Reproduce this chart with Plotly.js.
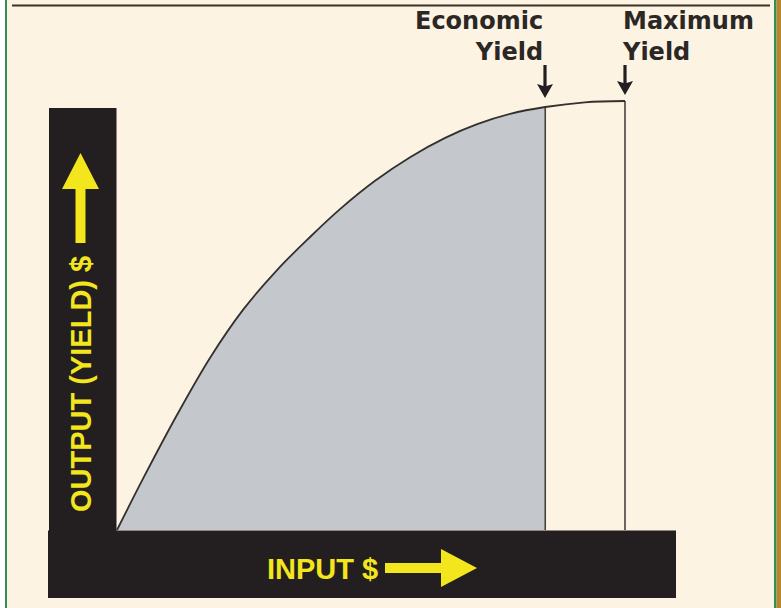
<!DOCTYPE html>
<html>
<head>
<meta charset="utf-8">
<script src="https://cdn.plot.ly/plotly-3.0.1.min.js"></script>
<style>html,body{margin:0;padding:0;background:#ffffff;}#chart{width:781px;height:608px;}</style>
</head>
<body>
<div id="chart"></div>
<script>
// ---- data (input $ vs output/yield $, relative units) ----
const inputValues  = [0, 5.1, 11.8, 18.3, 24.8, 31.5, 38.0, 43.9, 50.8, 57.7, 64.6, 70.9, 77.4, 84.3, 92.1, 100.0];
const outputValues = [0, 11.9, 26.8, 40.1, 51.3, 60.6, 68.3, 74.8, 81.4, 86.9, 91.4, 94.6, 97.0, 98.6, 99.7, 100.0];
const economicYieldInput = 84.3;
const maximumYieldInput = 100.0;
const axisLabels = {y: "OUTPUT (YIELD) $", x: "INPUT $"};
const markerLabels = [["Economic", "Yield"], ["Maximum", "Yield"]];

// ---- geometry helpers (decoration only) ----
const W = 781, H = 608;
const px = v => v / W;          // pixel -> paper x
const py = v => 1 - v / H;      // pixel -> paper y
// data scale: input 0 at px 117, 100 at px 625; output 0 at py 530, 100 at py 101
const xr = [(0 - 117) / 5.08, (W - 117) / 5.08];
const yr = [(530 - H) / 4.29, (530 - 0) / 4.29];

function valueAt(x) {
  for (let i = 1; i < inputValues.length; i++) {
    if (x <= inputValues[i]) {
      const t = (x - inputValues[i-1]) / (inputValues[i] - inputValues[i-1]);
      return outputValues[i-1] + t * (outputValues[i] - outputValues[i-1]);
    }
  }
  return outputValues[outputValues.length - 1];
}

const econIdx = inputValues.indexOf(economicYieldInput);
const fillX = inputValues.slice(0, econIdx + 1);
const fillY = outputValues.slice(0, econIdx + 1);

const curveColor = '#34302d';
const traces = [
  { x: fillX, y: fillY, mode: 'lines', fill: 'tozeroy', fillcolor: '#c4c8cd',
    line: {width: 0, shape: 'spline', smoothing: 1, color: 'rgba(0,0,0,0)'}, hoverinfo: 'skip' },
  { x: [economicYieldInput, economicYieldInput], y: [0, valueAt(economicYieldInput)], mode: 'lines',
    line: {color: '#46423e', width: 1.6}, hoverinfo: 'skip' },
  { x: [maximumYieldInput, maximumYieldInput], y: [0, valueAt(maximumYieldInput)], mode: 'lines',
    line: {color: '#46423e', width: 1.6}, hoverinfo: 'skip' },
  { x: inputValues, y: outputValues, mode: 'lines',
    line: {color: curveColor, width: 1.8, shape: 'spline', smoothing: 1}, hoverinfo: 'skip' }
];

const barColor = '#231f20';
const yellow = '#f3e61c';
const arrowDark = '#231f20';
function downArrow(x, top, headTop, tip, half) {
  return {type: 'path', xref: 'paper', yref: 'paper', fillcolor: arrowDark, line: {width: 0},
    path: `M ${px(x-1.6)} ${py(top)} L ${px(x+1.6)} ${py(top)} L ${px(x+1.6)} ${py(headTop+2)} ` +
          `L ${px(x+half)} ${py(headTop)} L ${px(x)} ${py(tip)} L ${px(x-half)} ${py(headTop)} L ${px(x-1.6)} ${py(headTop+2)} Z`};
}
const shapes = [
  // page frame
  {type: 'rect', xref: 'paper', yref: 'paper', x0: px(0), x1: px(5), y0: 0, y1: 1, fillcolor: '#ffffff', line: {width: 0}, layer: 'below'},
  {type: 'rect', xref: 'paper', yref: 'paper', x0: px(5), x1: px(7), y0: 0, y1: 1, fillcolor: '#2f8f55', line: {width: 0}},
  {type: 'rect', xref: 'paper', yref: 'paper', x0: px(774), x1: px(776.5), y0: 0, y1: 1, fillcolor: '#2f8f55', line: {width: 0}},
  {type: 'rect', xref: 'paper', yref: 'paper', x0: px(776.5), x1: 1, y0: 0, y1: 1, fillcolor: '#b8862f', line: {width: 0}},
  {type: 'rect', xref: 'paper', yref: 'paper', x0: px(12), x1: px(770), y0: py(6.5), y1: py(4.5), fillcolor: '#3a3128', line: {width: 0}},
  // black axis bars
  {type: 'rect', xref: 'paper', yref: 'paper', x0: px(49), x1: px(116.5), y0: py(598), y1: py(108), fillcolor: barColor, line: {width: 0}},
  {type: 'rect', xref: 'paper', yref: 'paper', x0: px(48), x1: px(676), y0: py(598), y1: py(530.5), fillcolor: barColor, line: {width: 0}},
  // yellow up arrow
  {type: 'path', xref: 'paper', yref: 'paper', fillcolor: yellow, line: {width: 0},
   path: `M ${px(75.5)} ${py(243)} L ${px(85.5)} ${py(243)} L ${px(85.5)} ${py(189)} L ${px(99)} ${py(189)} L ${px(80.5)} ${py(153)} L ${px(62)} ${py(189)} L ${px(75.5)} ${py(189)} Z`},
  // yellow right arrow
  {type: 'path', xref: 'paper', yref: 'paper', fillcolor: yellow, line: {width: 0},
   path: `M ${px(385)} ${py(563)} L ${px(441)} ${py(563)} L ${px(441)} ${py(549)} L ${px(477)} ${py(568)} L ${px(441)} ${py(587)} L ${px(441)} ${py(573)} L ${px(385)} ${py(573)} Z`},
  // black down arrows
  downArrow(545, 65, 84, 98, 8),
  downArrow(625, 65, 81, 95, 8)
];

const labelFont = {family: 'DejaVu Sans, Liberation Sans, Arial, sans-serif', size: 24, color: '#2b2724', weight: 'bold'};
const axisFont = {family: 'Liberation Sans, Arial, sans-serif', size: 29, color: yellow, weight: 'bold'};

const annotations = [
  {xref: 'paper', yref: 'paper', x: px(545), y: py(36), xanchor: 'right', yanchor: 'middle', align: 'right',
   text: markerLabels[0].join('<br>'), showarrow: false, font: labelFont},
  {xref: 'paper', yref: 'paper', x: px(620), y: py(36), xanchor: 'left', yanchor: 'middle', align: 'left',
   text: markerLabels[1].join('<br>'), showarrow: false, font: labelFont},
  // axis labels
  {xref: 'paper', yref: 'paper', x: px(81), y: py(384), xanchor: 'center', yanchor: 'middle', textangle: -90, text: axisLabels.y, showarrow: false, font: axisFont},
  {xref: 'paper', yref: 'paper', x: px(322), y: py(569), xanchor: 'center', yanchor: 'middle', text: axisLabels.x, showarrow: false, font: axisFont}
];

const layout = {
  width: W, height: H,
  margin: {l: 0, r: 0, t: 0, b: 0},
  paper_bgcolor: '#fcf3e3',
  plot_bgcolor: 'rgba(0,0,0,0)',
  showlegend: false,
  xaxis: {range: xr, visible: false, fixedrange: true},
  yaxis: {range: yr, visible: false, fixedrange: true},
  shapes: shapes,
  annotations: annotations
};

Plotly.newPlot('chart', traces, layout, {displayModeBar: false, staticPlot: true});
</script>
</body>
</html>
